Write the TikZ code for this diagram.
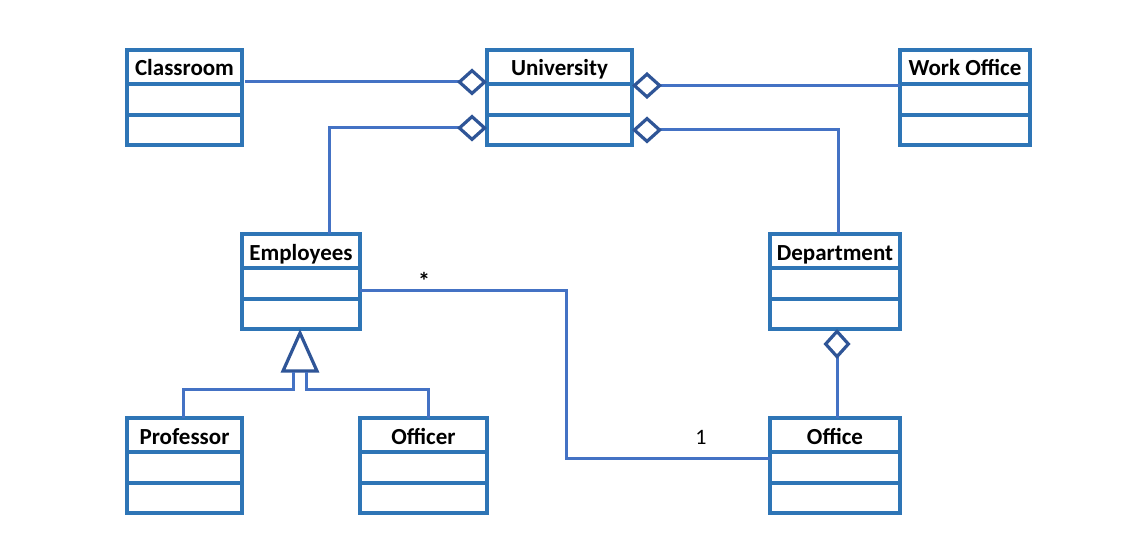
\documentclass[tikz,border=0pt]{standalone}
\usepackage{fontspec}
\setmainfont{Carlito}
\usetikzlibrary{arrows.meta,calc}
\definecolor{boxblue}{HTML}{2E75B6}
\definecolor{lineblue}{HTML}{4472C4}
\definecolor{dkblue}{HTML}{2F5597}
\newcommand\umlbox[6]{%
  \node[cls, minimum width={#4-#2}, minimum height={#5-#3}] (#1) at ({(#2+#4)/2},{(#3+#5)/2}) {};
  \node[ttl] (#1-t) at ({(#2+#4)/2},{#3+26}) {#6};
  \draw[divider] (#2,#3+34) -- (#4,#3+34) (#2,#3+65) -- (#4,#3+65);
}
\begin{document}
\begin{tikzpicture}[x=1pt,y=-1pt,
  cls/.style={draw=boxblue, line width=3.2pt, inner sep=0pt, outer sep=0pt},
  divider/.style={draw=boxblue, line width=3.2pt},
  ttl/.style={font=\fontsize{23}{26}\selectfont\bfseries, inner sep=0pt, anchor=base},
  lbl/.style={font=\fontsize{22}{26}\selectfont, inner sep=0pt},
  conn/.style={draw=lineblue, line width=3pt},
  dia/.tip={Diamond[open,length=30pt,width=27pt,line width=3.2pt,color=dkblue]},
  tri/.style={draw=dkblue, line width=3.2pt, line join=miter},
]
\fill[white] (0,0) rectangle (1135,559);
\useasboundingbox (0,0) rectangle (1135,559);

\umlbox{classroom}{127}{50}{242}{145}{Classroom}
\umlbox{univ}{487}{50}{632}{145}{University}
\umlbox{work}{900}{50}{1030}{145}{Work Office}
\umlbox{emp}{242}{234}{360}{329}{Employees}
\umlbox{dept}{770}{234}{900}{329}{Department}
\umlbox{prof}{127}{418}{242}{513}{Professor}
\umlbox{officer}{360}{418}{487}{513}{Officer}
\umlbox{office}{770}{418}{900}{513}{Office}

% aggregations
\draw[conn, -dia] ($(classroom.north east)+(3,32)$) -- ($(univ.north west)+(0,32)$);
\draw[conn, dia-] ($(univ.north east)+(0,35.5)$) -- ($(work.north west)+(0,35.5)$);
\draw[conn, -dia] ($(emp.north)+(28,0)$) |- ($(univ.north west)+(0,78)$);
\draw[conn, dia-] ($(univ.north east)+(0,80)$) -| ($(dept.north)+(3,0)$);
\draw[conn, -dia] ($(office.north)+(2,0)$) -- ($(dept.south)+(2,0)$);

% association
\coordinate (bend) at (566,290);
\draw[conn] ($(emp.north east)+(0,56)$) -- (bend) |- ($(office.north west)+(0,40)$);
\node[lbl, font=\fontsize{24}{26}\selectfont\bfseries] (star) at (424,281) {*};
\node[lbl, anchor=base] (one) at (701,444) {1};

% generalization
\coordinate (triA) at (300,333);
\coordinate (triL) at (283,371);
\coordinate (triR) at (317,371);
\draw[tri] (triA) -- (triR) -- (triL) -- cycle;
\coordinate (inhL) at (293,372);
\coordinate (inhR) at (306,372);
\draw[conn] (inhL) -- ++(0,17) -| ($(prof.north)+(-1,0)$);
\draw[conn] (inhR) -- ++(0,17) -| ($(officer.north)+(5,0)$);
\end{tikzpicture}
\end{document}
